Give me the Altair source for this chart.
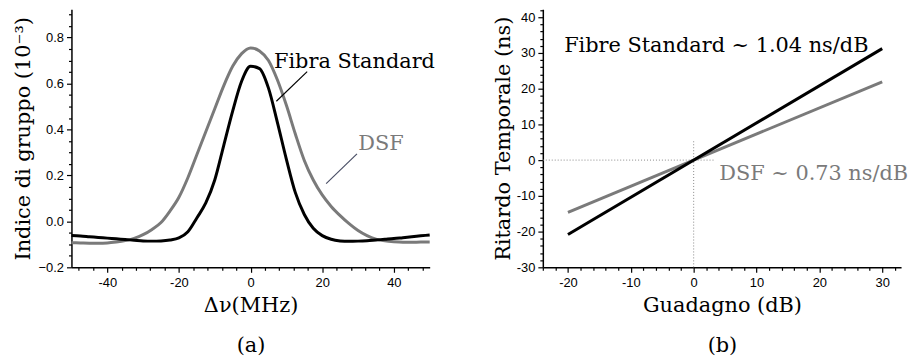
import altair as alt
import pandas as pd

# ---------------- data: panel (a) ----------------
dnu = [-50, -47.5, -45, -42.5, -40, -37.5, -35, -32.5, -30, -27.5, -25, -22.5, -20,
       -17.5, -15, -12.5, -10, -7.5, -5, -2.5, 0, 2.5, 5, 7.5, 10, 12.5, 15, 17.5,
       20, 22.5, 25, 27.5, 30, 32.5, 35, 37.5, 40, 42.5, 45, 47.5, 50]
fibra_standard = [-0.062, -0.064, -0.067, -0.070, -0.073, -0.076, -0.079, -0.082, -0.085,
                  -0.086, -0.085, -0.081, -0.072, -0.045, 0.015, 0.080, 0.180, 0.330,
                  0.480, 0.610, 0.675, 0.665, 0.580, 0.430, 0.270, 0.125, 0.030, -0.030,
                  -0.062, -0.078, -0.085, -0.087, -0.086, -0.084, -0.081, -0.078, -0.075,
                  -0.071, -0.067, -0.063, -0.059]
dsf = [-0.093, -0.094, -0.095, -0.095, -0.094, -0.090, -0.084, -0.074, -0.058, -0.035,
       -0.005, 0.045, 0.105, 0.190, 0.290, 0.390, 0.490, 0.590, 0.675, 0.730, 0.755,
       0.742, 0.700, 0.615, 0.505, 0.380, 0.265, 0.180, 0.115, 0.065, 0.025, -0.010,
       -0.040, -0.062, -0.077, -0.085, -0.089, -0.091, -0.091, -0.090, -0.090]

# annotation connectors (data coordinates)
conn_a_x = [15.8, 29.7]
conn_a_y = [0.652, 0.294]
conn_a_x2 = [7.2, 21.1]
conn_a_y2 = [0.523, 0.164]
label_a_text = ["Fibra Standard", "DSF"]
label_a_x = [29.0, 36.4]
label_a_y = [0.695, 0.337]

# ---------------- data: panel (b) ----------------
guadagno = [-20, 30]
ritardo_standard = [-20.8, 31.2]
ritardo_dsf = [-14.6, 21.9]
label_b_text = ["Fibre Standard ~ 1.04 ns/dB", "DSF ~ 0.73 ns/dB"]
label_b_x = [3.6, 19.1]
label_b_y = [31.9, -3.9]
guide_h_x = [-24, 3.2]
guide_h_y = [0, 0]
guide_v_x = [0, 0]
guide_v_y = [-30, 5.6]

# axis tick positions (major every 20 / 10, minor in between)
ticks_a_x = list(range(-48, 49, 4))
ticks_a_y = [round(-0.2 + 0.05 * i, 2) for i in range(23)]
ticks_b_x = list(range(-24, 33, 2))
ticks_b_y = list(range(-30, 43, 2))

BLACK = "#000000"
GREY = "#7a7a7a"
SERIF = "DejaVu Serif"
SANS = "Liberation Sans"
TSIZE = 21

W, H = 361, 260

MAJOR_DASH = [8, 0]
MINOR_DASH = [3, 12]

df_a = pd.DataFrame({"x": dnu, "std": fibra_standard, "dsf": dsf})
df_conn = pd.DataFrame({"x": conn_a_x, "y": conn_a_y, "x2": conn_a_x2, "y2": conn_a_y2,
                        "c": [BLACK, "#4a4f66"]})
df_lab_a = pd.DataFrame({"t": label_a_text, "x": label_a_x, "y": label_a_y, "c": [BLACK, GREY]})

xa = alt.Scale(domain=[-50, 50], nice=False, zero=False)
ya = alt.Scale(domain=[-0.2, 0.923], nice=False, zero=False)

MAJ_Y_A = "abs(datum.value*5 - round(datum.value*5)) < 0.001"


def int_axis(values, step, title, pad_t, lh=None, y=False):
    test = "datum.value % " + str(step) + " == 0"
    kw = dict(
        values=values, tickCount=200,
        labelExpr=test + " ? ('' + datum.value) : ''",
        labelOverlap=False, labelFlush=False,
        labelPadding=3 if y else 4,
        tickDash=alt.condition(test, alt.value(MAJOR_DASH), alt.value(MINOR_DASH)),
        title=title, titlePadding=pad_t,
    )
    if lh is not None:
        kw["titleLineHeight"] = lh
    return alt.Axis(**kw)


xa_axis = int_axis(ticks_a_x, 20, ["Δν(MHz)", "(a)"], 6, lh=40)
ya_axis = alt.Axis(
    values=ticks_a_y, tickCount=200,
    format=".1f",
    labelExpr=MAJ_Y_A + " ? datum.label : ''",
    labelOverlap=False, labelFlush=False, labelPadding=3,
    tickDash=alt.condition(MAJ_Y_A, alt.value(MAJOR_DASH), alt.value(MINOR_DASH)),
    title="Indice di gruppo (10⁻³)", titlePadding=5,
)

base_a = alt.Chart(df_a)
line_dsf = base_a.mark_line(color=GREY, strokeWidth=3, interpolate="monotone").encode(
    x=alt.X("x:Q", scale=xa, axis=xa_axis), y=alt.Y("dsf:Q", scale=ya, axis=ya_axis))
line_std = base_a.mark_line(color=BLACK, strokeWidth=3, interpolate="monotone").encode(
    x=alt.X("x:Q", scale=xa), y=alt.Y("std:Q", scale=ya))
conn = alt.Chart(df_conn).mark_rule(strokeWidth=1.2).encode(
    x=alt.X("x:Q", scale=xa), y=alt.Y("y:Q", scale=ya), x2="x2:Q", y2="y2:Q",
    color=alt.Color("c:N", scale=None))
lab_a = alt.Chart(df_lab_a).mark_text(font=SERIF, fontSize=TSIZE, align="center",
                                      baseline="middle").encode(
    x=alt.X("x:Q", scale=xa), y=alt.Y("y:Q", scale=ya), text="t:N",
    color=alt.Color("c:N", scale=None))

left = alt.layer(line_dsf, line_std, conn, lab_a).properties(width=W, height=H)

# ---------------- panel (b) ----------------
df_b = pd.DataFrame({"x": guadagno, "std": ritardo_standard, "dsf": ritardo_dsf})
df_gh = pd.DataFrame({"x": guide_h_x, "y": guide_h_y})
df_gv = pd.DataFrame({"x": guide_v_x, "y": guide_v_y})
df_lab_b = pd.DataFrame({"t": label_b_text, "x": label_b_x, "y": label_b_y, "c": [BLACK, GREY]})

xb = alt.Scale(domain=[-24, 33], nice=False, zero=False)
yb = alt.Scale(domain=[-30, 42.2], nice=False, zero=False)
xb_axis = int_axis(ticks_b_x, 10, ["Guadagno (dB)", "(b)"], 6, lh=40)
yb_axis = int_axis(ticks_b_y, 10, "Ritardo Temporale (ns)", 3, y=True)

gh = alt.Chart(df_gh).mark_line(color="#888888", strokeWidth=1, strokeDash=[1, 2]).encode(
    x=alt.X("x:Q", scale=xb, axis=xb_axis), y=alt.Y("y:Q", scale=yb, axis=yb_axis))
gv = alt.Chart(df_gv).mark_line(color="#888888", strokeWidth=1, strokeDash=[1, 2]).encode(
    x=alt.X("x:Q", scale=xb), y=alt.Y("y:Q", scale=yb))
base_b = alt.Chart(df_b)
lb_dsf = base_b.mark_line(color=GREY, strokeWidth=3).encode(
    x=alt.X("x:Q", scale=xb), y=alt.Y("dsf:Q", scale=yb))
lb_std = base_b.mark_line(color=BLACK, strokeWidth=3).encode(
    x=alt.X("x:Q", scale=xb), y=alt.Y("std:Q", scale=yb))
lab_b = alt.Chart(df_lab_b).mark_text(font=SERIF, fontSize=TSIZE, align="center",
                                      baseline="middle").encode(
    x=alt.X("x:Q", scale=xb), y=alt.Y("y:Q", scale=yb), text="t:N",
    color=alt.Color("c:N", scale=None))

right = alt.layer(gh, gv, lb_dsf, lb_std, lab_b).properties(width=W, height=H)

chart = alt.hconcat(left, right, spacing=57).properties(
    padding={"left": 12, "top": 2, "right": 0, "bottom": 0},
    background="white",
).configure_view(stroke=None).configure_axis(
    grid=False,
    domainColor=BLACK, domainWidth=1.5,
    ticks=True, tickSize=5, tickColor=BLACK, tickWidth=1.2,
    labelColor=BLACK, labelFont=SANS, labelFontSize=13,
    titleColor=BLACK, titleFont=SERIF, titleFontSize=TSIZE, titleFontWeight="normal",
)

chart.save("out.html", embed_options={"renderer": "svg", "actions": False})
